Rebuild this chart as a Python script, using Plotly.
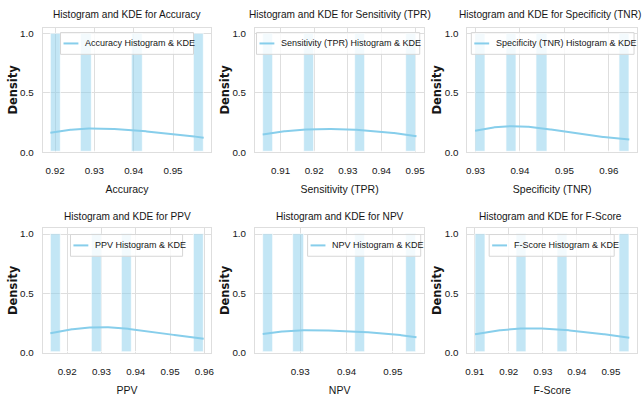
import numpy as np
import plotly.graph_objects as go

# ---------------- data ----------------
metric_names = ["Accuracy", "Sensitivity (TPR)", "Specificity (TNR)", "PPV", "NPV", "F-Score"]
accuracy = [0.9188, 0.9278, 0.9409, 0.9578]
sensitivity = [0.9047, 0.9185, 0.9337, 0.9504]
specificity = [0.9299, 0.9380, 0.9448, 0.9646]
ppv = [0.9151, 0.9286, 0.9373, 0.9598]
npv = [0.9219, 0.9296, 0.9429, 0.9551]
f_score = [0.9101, 0.9237, 0.9358, 0.9554]
y_ticks = [0.0, 0.5, 1.0]
y_tick_labels = ["0.0", "0.5", "1.0"]
n_bins = 15

series = [accuracy, sensitivity, specificity, ppv, npv, f_score]

# ---------------- layout helpers (pixels -> paper) ----------------
W, H = 642, 401
def px(x):
    return x / W
def py(y):
    return 1 - y / H

# plot-area rectangles in pixels: (left, right, top, bottom)
col_px = [(41, 211), (255, 425.5), (469, 640)]
row_px = [(28, 154), (231, 357)]
panels_px = [(c[0], c[1], r[0], r[1]) for r in row_px for c in col_px]
# legend boxes in pixels: (left, right, top, bottom)
legend_px = [
    (59, 193, 33, 55), (256.5, 421, 33, 55), (473, 637, 33, 55),
    (69, 182, 237.5, 259.5), (308, 422, 237.5, 259.5), (491, 617, 237.5, 259.5),
]
title_y_px = [15, 15, 15, 219, 219, 219]
tick_standoff = [9, 9, 9, 10, 10, 10]

SKY = "#87CEEB"
BAR = "rgba(135,206,235,0.5)"
GRID = "#dedede"
TXT = "#161616"
FONT = "Liberation Sans, Arial, sans-serif"


def kde_curve(vals, nbins, npts=200):
    v = np.asarray(vals, dtype=float)
    n = len(v)
    bw = v.std(ddof=1) * n ** (-1 / 5)          # Scott's rule
    xs = np.linspace(v.min(), v.max(), npts)      # cut = 0
    dens = np.exp(-0.5 * ((xs[:, None] - v[None, :]) / bw) ** 2).sum(1) / (n * bw * np.sqrt(2 * np.pi))
    binw = (v.max() - v.min()) / nbins
    return xs, dens * n * binw                     # scaled to counts


fig = go.Figure()
shapes = []
annotations = []

for i, (name, vals) in enumerate(zip(metric_names, series)):
    k = i + 1
    xa = "x" if k == 1 else f"x{k}"
    ya = "y" if k == 1 else f"y{k}"
    xkey = "xaxis" if k == 1 else f"xaxis{k}"
    ykey = "yaxis" if k == 1 else f"yaxis{k}"

    counts, edges = np.histogram(vals, bins=n_bins)
    centers = (edges[:-1] + edges[1:]) / 2
    binw = edges[1] - edges[0]
    fig.add_trace(go.Bar(
        x=centers, y=counts, width=binw, xaxis=xa, yaxis=ya,
        marker=dict(color=BAR, line=dict(color="white", width=0.7)),
        showlegend=False, hoverinfo="skip",
    ))
    kx, ky = kde_curve(vals, n_bins)
    fig.add_trace(go.Scatter(
        x=kx, y=ky, mode="lines", xaxis=xa, yaxis=ya,
        line=dict(color=SKY, width=2),
        name=f"{name} Histogram & KDE", showlegend=False,
    ))

    lo, hi = min(vals), max(vals)
    r = hi - lo
    l, rr, t, b = panels_px[i]
    fig.update_layout(**{
        xkey: dict(
            domain=[px(l), px(rr)], anchor=ya,
            range=[lo - 0.05 * r, hi + 0.05 * r],
            tick0=0, dtick=0.01, tickformat=".2f",
            showgrid=True, gridcolor=GRID, gridwidth=1,
            showline=True, linecolor=GRID, linewidth=1, mirror=True,
            zeroline=False, ticks="", ticklabelstandoff=tick_standoff[i],
            tickfont=dict(family=FONT, size=9.8, color=TXT),
            title=dict(text=name, font=dict(family=FONT, size=10.5, color=TXT), standoff=10),
        ),
        ykey: dict(
            domain=[py(b), py(t)], anchor=xa,
            range=[0, 1.05],
            tickvals=y_ticks, ticktext=y_tick_labels,
            showgrid=True, gridcolor=GRID, gridwidth=1,
            showline=True, linecolor=GRID, linewidth=1, mirror=True,
            zeroline=False, ticks="", ticklabelstandoff=6,
            tickfont=dict(family=FONT, size=9.8, color=TXT),
            title=dict(text="Density", font=dict(family="DejaVu Sans", size=11.5, color=TXT, weight="bold"), standoff=0),
        ),
    })

    # subplot title
    annotations.append(dict(
        text=f"Histogram and KDE for {name}", xref="paper", yref="paper",
        x=px((l + rr) / 2 - (2 if i % 3 == 2 else 0)), y=py(title_y_px[i]),
        xanchor="center", yanchor="middle",
        showarrow=False, font=dict(family=FONT, size=10.1, color=TXT),
    ))

    # legend box (matplotlib-style)
    bl, br, bt, bb = legend_px[i]
    shapes.append(dict(
        type="rect", xref="paper", yref="paper",
        x0=px(bl), x1=px(br), y0=py(bb), y1=py(bt),
        fillcolor="rgba(255,255,255,0.8)", line=dict(color="#d6d6d6", width=1), layer="above",
    ))
    ym = (bt + bb) / 2
    shapes.append(dict(
        type="line", xref="paper", yref="paper",
        x0=px(bl + 3), x1=px(bl + 18), y0=py(ym), y1=py(ym),
        line=dict(color=SKY, width=2), layer="above",
    ))
    annotations.append(dict(
        text=f"{name} Histogram & KDE", xref="paper", yref="paper",
        x=px(bl + 22.5), y=py(ym), xanchor="left", yanchor="middle",
        showarrow=False, font=dict(family=FONT, size=9, color=TXT),
    ))

fig.update_layout(
    width=W, height=H,
    margin=dict(l=0, r=0, t=0, b=0),
    paper_bgcolor="white", plot_bgcolor="white",
    bargap=0, barmode="overlay",
    showlegend=False,
    shapes=shapes, annotations=annotations,
)

fig.write_html(
    "out.html",
    config={"displayModeBar": False},
    post_script="document.body.style.margin='0';document.body.style.overflow='hidden';",
)
